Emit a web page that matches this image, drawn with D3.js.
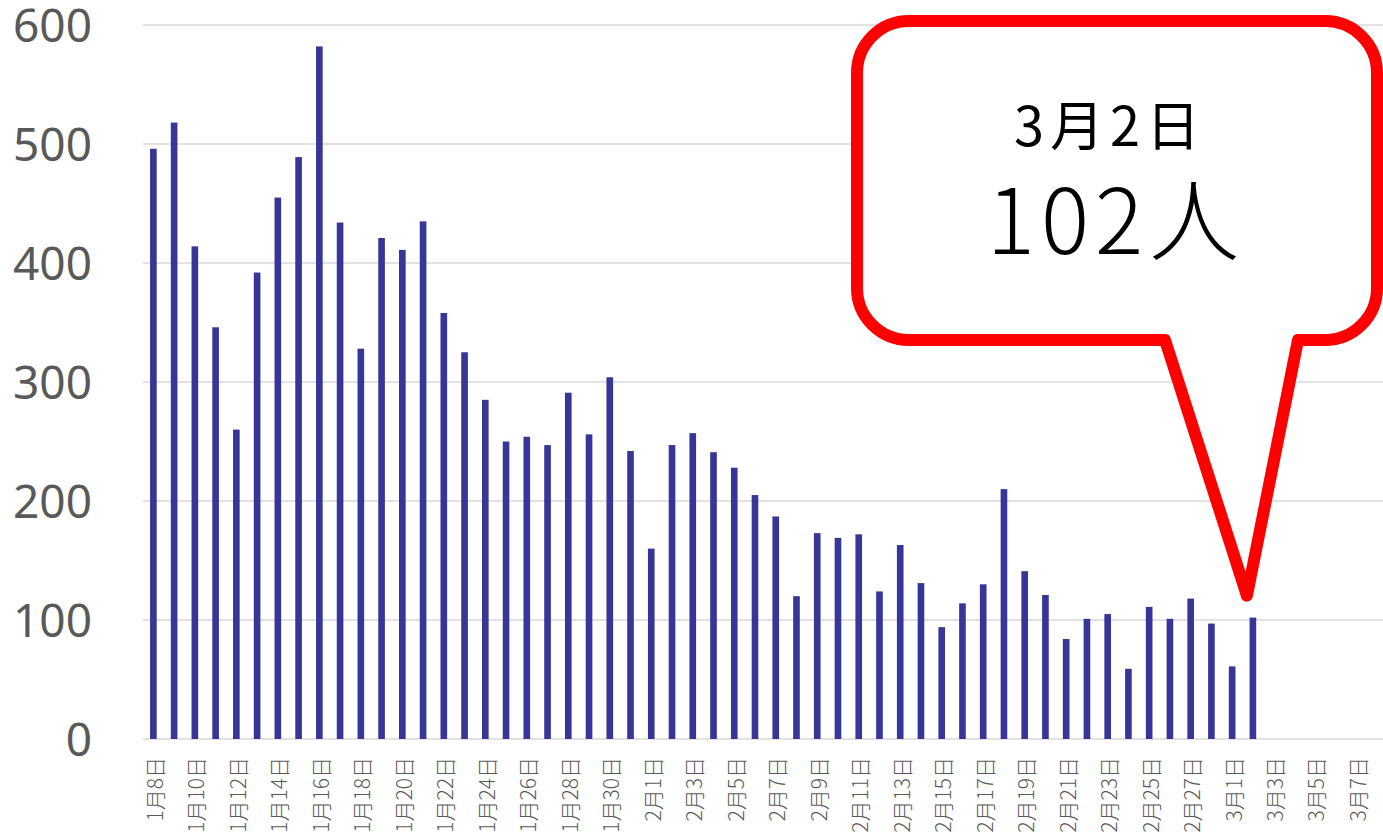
<!DOCTYPE html>
<html>
<head>
<meta charset="utf-8">
<script src="https://cdn.jsdelivr.net/npm/d3@7"></script>
<style>
  body { margin: 0; background: #fff; }
  svg { display: block; }
</style>
</head>
<body>
<div id="chart"></div>
<script>
// dates shown on the x axis (Jan 8 - Mar 7)
var months = [1, 2, 3];
var daysInMonth = [31, 28, 31];
var startDay = 8, endMonth = 3, endDay = 7;

// daily counts from 1月8日 to 3月2日
var values = [496, 518, 414, 346, 260, 392, 455, 489, 582, 434,
              328, 421, 411, 435, 358, 325, 285, 250, 254, 247,
              291, 256, 304, 242, 160, 247, 257, 241, 228, 205,
              187, 120, 173, 169, 172, 124, 163, 131, 94, 114,
              130, 210, 141, 121, 84, 101, 105, 59, 111, 101,
              118, 97, 61, 102];

var yTicks = [0, 100, 200, 300, 400, 500, 600];

var calloutDate = "3月2日";
var calloutValue = "102人";

// build category labels
var categories = [];
months.forEach(function(m, mi) {
    var from = (m === 1) ? startDay : 1;
    var to = (m === endMonth) ? endDay : daysInMonth[mi];
    for (var d = from; d <= to; d++) categories.push(m + "月" + d + "日");
});

var w = 1383, h = 839;
var margin = { left: 143, right: 16, top: 25, bottom: 100 };

var svg = d3.select("#chart").append("svg")
    .attr("width", w)
    .attr("height", h);

var x = d3.scaleBand()
    .domain(categories)
    .range([margin.left, w - margin.right])
    .paddingInner(0.68)
    .paddingOuter(0.34);

var y = d3.scaleLinear()
    .domain([0, 600])
    .range([h - margin.bottom, margin.top]);

// gridlines
svg.append("g")
    .selectAll("line")
    .data(yTicks)
    .enter()
    .append("line")
    .attr("x1", margin.left)
    .attr("x2", w)
    .attr("y1", function(d) { return y(d); })
    .attr("y2", function(d) { return y(d); })
    .attr("stroke", "#d9d9d9")
    .attr("stroke-width", 1.5);

// y axis labels
var yAxis = svg.append("g")
    .attr("transform", "translate(92,0)")
    .call(d3.axisLeft(y).tickValues(yTicks).tickSize(0).tickPadding(0));
yAxis.select(".domain").remove();
yAxis.selectAll("text")
    .attr("font-family", "'Noto Sans', 'Open Sans', sans-serif")
    .attr("font-size", 46)
    .attr("fill", "#595959")
    .attr("dy", "0.35em");

// bars
svg.append("g")
    .selectAll("rect")
    .data(values)
    .enter()
    .append("rect")
    .attr("x", function(d, i) { return x(categories[i]); })
    .attr("y", function(d) { return y(d); })
    .attr("width", x.bandwidth())
    .attr("height", function(d) { return y(0) - y(d); })
    .attr("fill", "#363699");

// x axis labels, every second day, rotated
var xAxis = svg.append("g")
    .attr("transform", "translate(0," + (y(0) + 18) + ")")
    .call(d3.axisBottom(x)
        .tickValues(categories.filter(function(d, i) { return i % 2 === 0; }))
        .tickSize(0).tickPadding(0));
xAxis.select(".domain").remove();
xAxis.selectAll("text")
    .attr("font-family", "'Noto Sans CJK JP', sans-serif")
    .attr("font-size", 21)
    .attr("font-weight", 300)
    .attr("fill", "#595959")
    .attr("text-anchor", "end")
    .attr("transform", "rotate(-90)")
    .attr("x", 0)
    .attr("y", 2)
    .attr("dy", "0.35em");

// callout bubble pointing at the last bar
var last = categories[values.length - 1];
var tipX = x(last) + x.bandwidth() / 2 - 6;
var tipY = y(values[values.length - 1]) - 22;
var bx0 = 857, bx1 = 1377, by0 = 21, by1 = 340, r = 52;
var p = d3.path();
p.moveTo(bx0 + r, by0);
p.lineTo(bx1 - r, by0);
p.arcTo(bx1, by0, bx1, by0 + r, r);
p.lineTo(bx1, by1 - r);
p.arcTo(bx1, by1, bx1 - r, by1, r);
p.lineTo(1298, by1);
p.lineTo(tipX, tipY);
p.lineTo(1165, by1);
p.lineTo(bx0 + r, by1);
p.arcTo(bx0, by1, bx0, by1 - r, r);
p.lineTo(bx0, by0 + r);
p.arcTo(bx0, by0, bx0 + r, by0, r);
p.closePath();

svg.append("path")
    .attr("d", p.toString())
    .attr("fill", "#fff")
    .attr("stroke", "#ff0000")
    .attr("stroke-width", 12)
    .attr("stroke-linejoin", "round");

svg.append("text")
    .attr("x", 1110)
    .attr("y", 146)
    .attr("text-anchor", "middle")
    .attr("font-family", "'Noto Sans CJK JP', sans-serif")
    .attr("font-size", 54)
    .attr("letter-spacing", 6)
    .attr("fill", "#000")
    .text(calloutDate);

svg.append("text")
    .attr("x", 1116)
    .attr("y", 254)
    .attr("text-anchor", "middle")
    .attr("font-family", "'Noto Sans CJK JP', sans-serif")
    .attr("font-size", 90)
    .attr("font-weight", 300)
    .attr("letter-spacing", 6)
    .attr("fill", "#000")
    .text(calloutValue);
</script>
</body>
</html>
